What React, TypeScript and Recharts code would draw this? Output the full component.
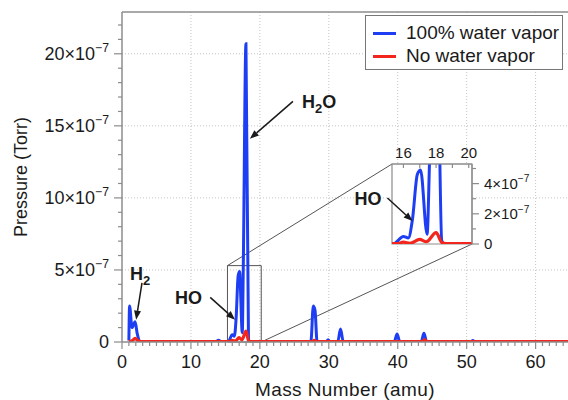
import React from 'react';
import {
  LineChart,
  Line,
  XAxis,
  YAxis,
  CartesianGrid,
  ReferenceLine,
  ReferenceArea,
  ReferenceDot,
} from 'recharts';

const FONT = '"Liberation Sans", Arial, Helvetica, sans-serif';
const BLUE = '#1d3ef2';
const RED = '#f2261c';
const AXIS = '#8c8c8c';
const INK = '#1a1a1a';

// pressure values are in units of 1e-7 Torr
const vaporMass = [
  1.0, 1.1, 1.45, 1.9, 2.2, 2.6, 13.6, 14.0, 14.4, 15.4, 16.0, 16.3, 16.55, 16.85,
  17.05, 17.45, 17.6, 17.98, 18.35, 18.5, 27.4, 27.75, 28.0, 28.3, 29.6, 29.9, 30.2,
  31.3, 31.7, 32.1, 39.5, 39.9, 40.3, 43.4, 43.8, 44.2, 50.6, 50.9, 51.2, 64.7,
];
const vaporP = [
  0.1, 2.5, 1.0, 1.4, 0.6, 0.02, 0.02, 0.12, 0.02, 0.02, 0.5, 0.4, 1.6, 4.6,
  4.9, 0.65, 5.5, 20.7, 0.2, 0.02, 0.02, 2.5, 2.2, 0.02, 0.02, 0.15, 0.02,
  0.02, 0.9, 0.02, 0.02, 0.55, 0.02, 0.02, 0.6, 0.02, 0.02, 0.1, 0.02, 0.02,
];
const dryMass = [
  1.0, 1.5, 1.9, 2.3, 2.7, 15.6, 16.0, 16.4, 17.0, 17.4, 18.0, 18.35, 18.6,
  27.6, 27.9, 28.2, 43.5, 43.9, 44.3, 64.7,
];
const dryP = [
  0.02, 0.1, 0.25, 0.1, 0.02, 0.02, 0.12, 0.05, 0.3, 0.15, 0.75, 0.1, 0.02,
  0.02, 0.12, 0.02, 0.02, 0.15, 0.02, 0.02,
];

const xMajor = [0, 10, 20, 30, 40, 50, 60];
const yMajor = [0, 5, 10, 15, 20];
const xTicks = Array.from({ length: 65 }, (_, i) => i);
const yTicks = Array.from({ length: 23 }, (_, i) => i);

const insetXTicks = [16, 17, 18, 19, 20];
const insetXLabels = [16, 18, 20];
const insetYTicks = [0, 1, 2, 3, 4, 5];
const insetYLabels = [0, 2, 4];

const MAIN_X: [number, number] = [0, 64.7];
const MAIN_Y: [number, number] = [0, 22.9];
const ZOOM_X: [number, number] = [15.3, 20.2];
const ZOOM_Y: [number, number] = [0, 5.3];

const legendItems = [
  { label: '100% water vapor', color: BLUE },
  { label: 'No water vapor', color: RED },
];

// label anchors and arrows, in data coordinates of the chart they sit in
const mainNotes = [
  { base: 'H', sub: '2', tail: 'O', at: [26.1, 16.25], from: [24.8, 16.7], to: [18.55, 14.1] },
  { base: 'H', sub: '2', tail: '', at: [1.15, 4.3], from: [2.9, 4.1], to: [2.05, 1.55] },
  { base: 'HO', sub: '', tail: '', at: [7.7, 2.64], from: [12.8, 3.1], to: [16.4, 1.55] },
];
const insetNote = { base: 'HO', at: [13.0, 2.58], from: [15.02, 3.05], to: [16.56, 1.52] };
// corners of the inset box expressed in main-chart coordinates
const insetTopLeft = [39.17, 12.35];
const insetBottomRight = [50.78, 6.8];

const vaporData = vaporMass.map((m, i) => ({ m, p: vaporP[i] }));
const dryData = dryMass.map((m, i) => ({ m, p: dryP[i] }));

const sci = (v: number, fs: number) =>
  v === 0
    ? '0'
    : [
        <tspan key="a">{`${v}×10`}</tspan>,
        <tspan key="b" dy={-fs * 0.42} fontSize={fs * 0.68}>
          −7
        </tspan>,
      ];

const MainXTick = ({ x, y, payload }: any) => {
  const major = xMajor.includes(payload.value);
  return (
    <g>
      <line x1={x} x2={x} y1={y} y2={y + (major ? 7 : 4)} stroke={AXIS} strokeWidth={1.2} />
      {major && (
        <text x={x} y={y + 26} textAnchor="middle" fontSize={18} fill={INK} fontFamily={FONT}>
          {payload.value}
        </text>
      )}
    </g>
  );
};

const MainYTick = ({ x, y, payload }: any) => {
  const major = yMajor.includes(payload.value);
  return (
    <g>
      <line x1={x - (major ? 8 : 4)} x2={x} y1={y} y2={y} stroke={AXIS} strokeWidth={1.2} />
      {major && (
        <text x={x - 13} y={y + 6} textAnchor="end" fontSize={18} fill={INK} fontFamily={FONT}>
          {sci(payload.value, 18)}
        </text>
      )}
    </g>
  );
};

const InsetXTick = ({ x, y, payload }: any) => (
  <g>
    <line x1={x} x2={x} y1={y} y2={y + 4} stroke={AXIS} strokeWidth={1.2} />
    {insetXLabels.includes(payload.value) && (
      <text x={x} y={y - 6} textAnchor="middle" fontSize={15} fill={INK} fontFamily={FONT}>
        {payload.value}
      </text>
    )}
  </g>
);

const InsetYTick = ({ x, y, payload }: any) => {
  const major = insetYLabels.includes(payload.value);
  return (
    <g>
      <line x1={x} x2={x + (major ? 7 : 4)} y1={y} y2={y} stroke={AXIS} strokeWidth={1.2} />
      {major && (
        <text x={x + 12} y={y + 5} textAnchor="start" fontSize={15} fill={INK} fontFamily={FONT}>
          {sci(payload.value, 15)}
        </text>
      )}
    </g>
  );
};

const Arrow = (p: any) => {
  const { x1, y1, x2, y2 } = p;
  const a = Math.atan2(y2 - y1, x2 - x1);
  const len = 9;
  const w = 3.5;
  const bx = x2 - len * Math.cos(a);
  const by = y2 - len * Math.sin(a);
  const pts = `${x2},${y2} ${bx + w * Math.sin(a)},${by - w * Math.cos(a)} ${bx - w * Math.sin(a)},${by + w * Math.cos(a)}`;
  return (
    <g>
      <line x1={x1} y1={y1} x2={bx} y2={by} stroke={INK} strokeWidth={1.5} />
      <polygon points={pts} fill={INK} />
    </g>
  );
};

const chem = (base: string, sub?: string, tail?: string) => (p: any) => (
  <text x={p.cx} y={p.cy} fontSize={18} fontWeight="bold" fontFamily={FONT} fill={INK}>
    {base}
    {sub ? (
      <tspan dy={5} fontSize={13}>
        {sub}
      </tspan>
    ) : null}
    {tail ? <tspan dy={-5}>{tail}</tspan> : null}
  </text>
);

const XTitle = (p: any) => {
  const vb = p.viewBox || { x: 122, y: 342, width: 446, height: 58 };
  return (
    <text x={vb.x + vb.width / 2} y={vb.y + vb.height - 4} textAnchor="middle" fontSize={19} letterSpacing={0.4} fill={INK} fontFamily={FONT}>
      Mass Number (amu)
    </text>
  );
};

const YTitle = (p: any) => {
  const vb = p.viewBox || { x: 0, y: 12, width: 122, height: 330 };
  const cx = vb.x + 27;
  const cy = vb.y + vb.height / 2;
  return (
    <text x={cx} y={cy} transform={`rotate(-90, ${cx}, ${cy})`} textAnchor="middle" fontSize={18} fill={INK} fontFamily={FONT}>
      Pressure (Torr)
    </text>
  );
};

export default function App() {
  return (
    <div style={{ position: 'absolute', left: 0, top: 0, width: 568, height: 400, background: '#fff', fontFamily: FONT }}>
      <LineChart width={568} height={400} margin={{ top: 12, right: 0, bottom: 0, left: 0 }}>
        <CartesianGrid
          stroke="#c4c4c4"
          strokeDasharray="1 2"
          verticalValues={xMajor.slice(1)}
          horizontalValues={yMajor.slice(1)}
        />
        <XAxis
          type="number"
          dataKey="m"
          domain={MAIN_X}
          allowDataOverflow
          ticks={xTicks}
          interval={0}
          tickSize={0}
          tickMargin={0}
          tickLine={false}
          tick={<MainXTick />}
          axisLine={{ stroke: AXIS, strokeWidth: 1.5 }}
          height={58}
          label={XTitle}
        />
        <YAxis
          type="number"
          domain={MAIN_Y}
          allowDataOverflow
          ticks={yTicks}
          interval={0}
          tickSize={0}
          tickMargin={0}
          tickLine={false}
          tick={<MainYTick />}
          axisLine={{ stroke: AXIS, strokeWidth: 1.5 }}
          width={122}
          label={YTitle}
        />
        <ReferenceLine y={MAIN_Y[1]} stroke={AXIS} strokeWidth={1.5} />
        <ReferenceArea x1={ZOOM_X[0]} x2={ZOOM_X[1]} y1={ZOOM_Y[0]} y2={ZOOM_Y[1]} fill="none" stroke="#555" strokeWidth={1} />
        <ReferenceLine
          segment={[{ x: ZOOM_X[0], y: ZOOM_Y[1] }, { x: insetTopLeft[0], y: insetTopLeft[1] }]}
          stroke="#555"
          strokeWidth={1}
        />
        <ReferenceLine
          segment={[{ x: ZOOM_X[1], y: ZOOM_Y[0] }, { x: insetBottomRight[0], y: insetBottomRight[1] }]}
          stroke="#555"
          strokeWidth={1}
        />
        <Line data={vaporData} dataKey="p" type="monotone" stroke={BLUE} strokeWidth={3} dot={false} isAnimationActive={false} />
        <Line data={dryData} dataKey="p" type="monotone" stroke={RED} strokeWidth={3.2} dot={false} isAnimationActive={false} />
        {mainNotes.map((n, i) => (
          <ReferenceLine
            key={`a${i}`}
            segment={[{ x: n.from[0], y: n.from[1] }, { x: n.to[0], y: n.to[1] }]}
            shape={Arrow}
          />
        ))}
        {mainNotes.map((n, i) => (
          <ReferenceDot key={`t${i}`} x={n.at[0]} y={n.at[1]} r={1} shape={chem(n.base, n.sub, n.tail)} />
        ))}
      </LineChart>

      <div style={{ position: 'absolute', left: 350, top: 140 }}>
        <LineChart width={185} height={122} margin={{ top: 0, right: 0, bottom: 18, left: 42 }}>
          <XAxis
            orientation="top"
            type="number"
            dataKey="m"
            domain={ZOOM_X}
            allowDataOverflow
            ticks={insetXTicks}
            interval={0}
            tickSize={0}
            tickMargin={0}
            tickLine={false}
            tick={<InsetXTick />}
            axisLine={{ stroke: AXIS, strokeWidth: 1.2 }}
            height={24}
          />
          <YAxis
            orientation="right"
            type="number"
            domain={ZOOM_Y}
            allowDataOverflow
            ticks={insetYTicks}
            interval={0}
            tickSize={0}
            tickMargin={0}
            tickLine={false}
            tick={<InsetYTick />}
            axisLine={{ stroke: AXIS, strokeWidth: 1.2 }}
            width={63}
          />
          <ReferenceArea
            x1={ZOOM_X[0]}
            x2={ZOOM_X[1]}
            y1={ZOOM_Y[0]}
            y2={ZOOM_Y[1]}
            fill="#fff"
            fillOpacity={1}
            stroke={AXIS}
            strokeWidth={1.2}
          />
          <Line data={vaporData} dataKey="p" type="monotone" stroke={BLUE} strokeWidth={3} dot={false} isAnimationActive={false} />
          <Line data={dryData} dataKey="p" type="monotone" stroke={RED} strokeWidth={3.2} dot={false} isAnimationActive={false} />
          <ReferenceLine
            segment={[{ x: insetNote.from[0], y: insetNote.from[1] }, { x: insetNote.to[0], y: insetNote.to[1] }]}
            ifOverflow="visible"
            shape={Arrow}
          />
          <ReferenceDot x={insetNote.at[0]} y={insetNote.at[1]} r={1} ifOverflow="visible" shape={chem(insetNote.base)} />
        </LineChart>
      </div>

      <div
        style={{
          position: 'absolute',
          left: 365,
          top: 15,
          width: 198,
          height: 55,
          boxSizing: 'border-box',
          border: '1px solid #777',
          background: '#fff',
          fontSize: 19,
          color: INK,
        }}
      >
        {legendItems.map((it, i) => (
          <div
            key={it.label}
            style={{ position: 'absolute', left: 7, top: 6 + i * 23, height: 22, display: 'flex', alignItems: 'center', whiteSpace: 'nowrap' }}
          >
            <span style={{ display: 'inline-block', width: 23, height: 3, background: it.color, marginRight: 10 }} />
            {it.label}
          </div>
        ))}
      </div>
    </div>
  );
}
